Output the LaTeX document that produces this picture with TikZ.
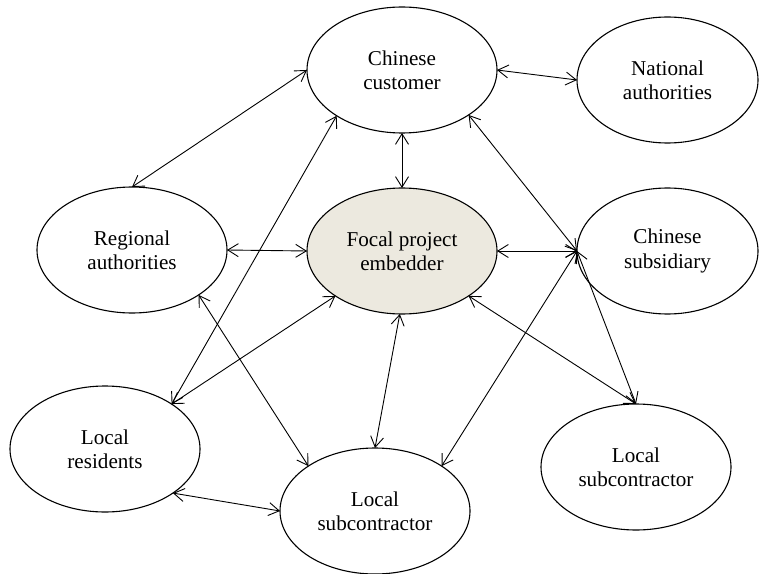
\documentclass[tikz,border=0pt]{standalone}
\usepackage{fontspec}
\setmainfont{Liberation Serif}
\usetikzlibrary{shapes.geometric,arrows.meta}
\definecolor{focalfill}{RGB}{236,233,223}
\tikzset{
  actor/.style={ellipse, draw, line width=1.1bp, minimum width=190bp, minimum height=126bp,
    inner sep=0pt, outer sep=0pt, align=center, font=\fontsize{21.2}{24.2}\selectfont},
  narrow/.style={minimum width=181bp},
  link/.style={line width=0.9bp, {Straight Barb[length=10.5bp,width=13bp]}-{Straight Barb[length=10.5bp,width=13bp]}}
}
\begin{document}
\begin{tikzpicture}[x=1bp,y=-1bp]
\useasboundingbox (0,0) rectangle (759,574);
\node[actor] (cc) at (402,70) {Chinese\\customer};
\node[actor,narrow] (na) at (667.5,80) {National\\authorities};
\node[actor] (ra) at (132,250) {Regional\\authorities};
\node[actor,fill=focalfill] (fp) at (402,251) {Focal project\\embedder};
\node[actor,narrow] (cs) at (667.5,251) {Chinese\\subsidiary};
\node[actor] (lr) at (105,449) {Local\\residents};
\node[actor] (lsb) at (375,511) {Local\\subcontractor};
\node[actor] (lsr) at (636,467) {Local\\subcontractor};

\draw[link] (cc.0) -- (na.180);
\draw[link] (cc.180) -- (ra.90);
\draw[link] (cc.270) -- (fp.90);
\draw[link] (cc.215) -- (lr.34);
\draw[link] (cc.326.5) -- (cs.180);
\draw[link] (ra.0) -- (fp.180);
\draw[link] (fp.0) -- (cs.180);
\draw[link] (ra.326) -- (lsb.146);
\draw[link] (fp.214) -- (lr.34);
\draw[link] (fp.268.5) -- (lsb.90);
\draw[link] (fp.326) -- (lsr.90);
\draw[link] (cs.180) -- (lsb.34);
\draw[link] (cs.180) -- (lsr.90);
\draw[link] (lr.327.7) -- (lsb.180);
\end{tikzpicture}
\end{document}
